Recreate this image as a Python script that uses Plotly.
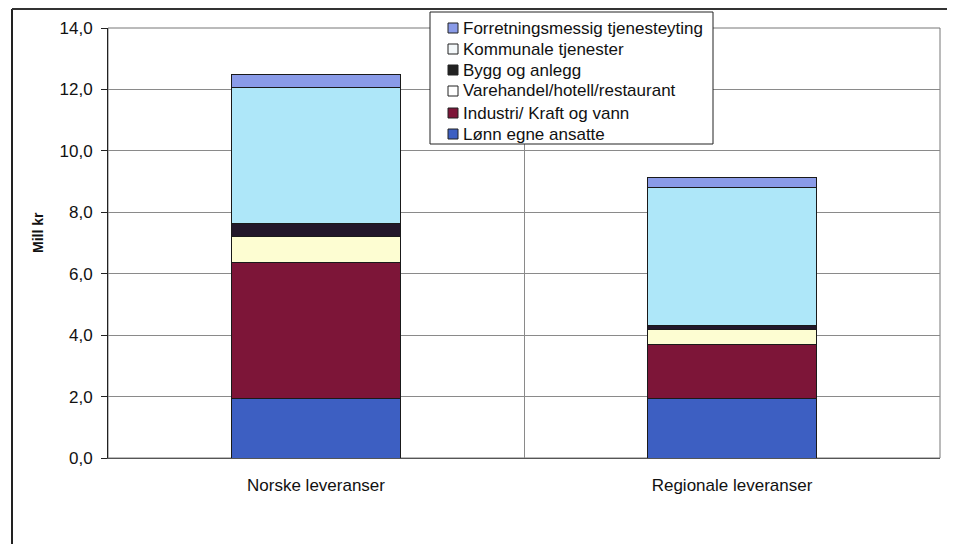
import plotly.graph_objects as go

categories = ["Norske leveranser", "Regionale leveranser"]
series_names = [
    "Lønn egne ansatte",
    "Industri/ Kraft og vann",
    "Varehandel/hotell/restaurant",
    "Bygg og anlegg",
    "Kommunale tjenester",
    "Forretningsmessig tjenesteyting",
]
lonn = [1.95, 1.95]
industri = [4.43, 1.73]
varehandel = [0.82, 0.49]
bygg = [0.42, 0.15]
kommunale = [4.44, 4.50]
forretning = [0.44, 0.32]
y_ticks = [0, 2, 4, 6, 8, 10, 12, 14]

colors = ["#3d5fc2", "#7d1538", "#fdfdd2", "#22172a", "#aee7f9", "#8a9be8"]
legend_swatch = ["#3d5fc2", "#7d1538", "#ffffff", "#222222", "#f4f8fa", "#8a9be8"]
values = [lonn, industri, varehandel, bygg, kommunale, forretning]

fig = go.Figure()
for name, vals, col in zip(series_names, values, colors):
    fig.add_trace(go.Bar(
        x=categories, y=vals, name=name,
        marker=dict(color=col, line=dict(color="#1a1a1a", width=1)),
        width=0.404, showlegend=False,
    ))

# plot area in screen pixels: x 108..940, y 28..458
PL, PR, PT, PB = 108.0, 940.0, 28.0, 458.0
def px(x):
    return (x - PL) / (PR - PL)
def py(y):
    return (PB - y) / (PB - PT)

shapes = []
annotations = []
# custom legend box
shapes.append(dict(type="rect", xref="paper", yref="paper",
                   x0=px(430), x1=px(713), y0=py(144), y1=py(12),
                   fillcolor="white", line=dict(color="#222", width=1), layer="above"))
row_y = [28, 49, 70, 91, 113, 134]
for i, idx in enumerate(reversed(range(len(series_names)))):
    yc = row_y[i]
    shapes.append(dict(type="rect", xref="paper", yref="paper",
                       x0=px(448), x1=px(458), y0=py(yc + 5), y1=py(yc - 5),
                       fillcolor=legend_swatch[idx], line=dict(color="#222", width=1),
                       layer="above"))
    annotations.append(dict(xref="paper", yref="paper", x=px(461), y=py(yc),
                            xanchor="left", yanchor="middle", showarrow=False,
                            text=series_names[idx],
                            font=dict(size=17, color="#111")))
# y axis title
annotations.append(dict(xref="paper", yref="paper", x=px(38), y=py(233),
                        xanchor="center", yanchor="middle", showarrow=False,
                        textangle=-90, text="<b>Mill kr</b>",
                        font=dict(size=14, color="#111")))
# plot area border
shapes.append(dict(type="rect", xref="paper", yref="paper", x0=0, x1=1, y0=0, y1=1,
                   line=dict(color="#777", width=1), layer="below"))
# outer chart frame
shapes.append(dict(type="line", xref="paper", yref="paper",
                   x0=px(12), x1=px(12), y0=py(560), y1=py(9),
                   line=dict(color="#222", width=2)))
shapes.append(dict(type="line", xref="paper", yref="paper",
                   x0=px(12), x1=px(950), y0=py(9), y1=py(9),
                   line=dict(color="#333", width=2)))
shapes.append(dict(type="line", xref="paper", yref="paper",
                   x0=px(948), x1=px(948), y0=py(560), y1=py(9),
                   line=dict(color="#c8c8c8", width=1)))

fig.update_layout(
    barmode="stack",
    width=955, height=544,
    margin=dict(l=100, r=23, t=20, b=94),
    paper_bgcolor="white", plot_bgcolor="white",
    separators=",.",
    font=dict(family="Liberation Sans, Arial, sans-serif", size=17, color="#111"),
    showlegend=False,
    shapes=shapes,
    annotations=annotations,
)
fig.update_yaxes(
    range=[0, 14], tickvals=y_ticks, tickformat=".1f",
    showgrid=True, gridcolor="#8a8a8a", gridwidth=1,
    showline=True, linecolor="#222", linewidth=1,
    ticks="outside", ticklen=6, tickcolor="#222",
    ticklabelstandoff=5,
    tickfont=dict(size=17),
    zeroline=False,
)
fig.update_xaxes(
    showgrid=True, gridcolor="#8a8a8a", gridwidth=1,
    tickson="boundaries", ticks="", ticklen=0,
    showline=True, linecolor="#555", linewidth=1,
    tickfont=dict(size=17),
    ticklabelstandoff=12,
)
fig.write_html("out.html")
